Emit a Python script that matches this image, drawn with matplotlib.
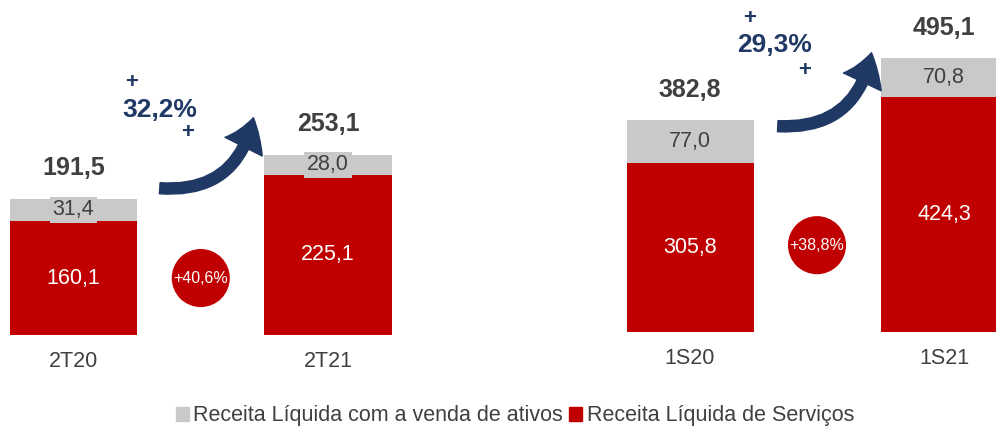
import matplotlib
matplotlib.use("Agg")
import matplotlib.pyplot as plt
from matplotlib.patches import FancyArrowPatch, Patch

plt.rcParams['font.family'] = ['Liberation Sans', 'DejaVu Sans']

# Data
cats_q = ["2T20", "2T21"]
serv_q = [160.1, 225.1]
ativos_q = [31.4, 28.0]
total_q = [191.5, 253.1]
growth_serv_q = "+40,6%"
growth_total_q = "32,2%"

cats_s = ["1S20", "1S21"]
serv_s = [305.8, 424.3]
ativos_s = [77.0, 70.8]
total_s = [382.8, 495.1]
growth_serv_s = "+38,8%"
growth_total_s = "29,3%"

legend_labels = ["Receita Líquida com a venda de ativos", "Receita Líquida de Serviços"]

RED = "#C00000"
GRAY = "#C9C9C9"
DARK = "#404040"
BLUE = "#1F3864"

W, H = 996, 429
fig = plt.figure(figsize=(W/100, H/100), dpi=100)

def px(x, y):
    return (x / W, 1 - y / H)

def make_ax(left_px, right_px, base_px, scale, x0_px, pitch):
    b = (H - base_px) / H
    ax = fig.add_axes([left_px / W, b, (right_px - left_px) / W, 1 - b])
    ax.set_ylim(0, base_px / scale)
    ax.set_xlim((left_px - x0_px) / pitch, (right_px - x0_px) / pitch)
    ax.axis("off")
    return ax

axL = make_ax(0, 400, 335, 0.712, 73.5, 254.5)
axR = make_ax(600, 996, 332, 0.553, 690, 254)

def draw(ax, cats, serv, ativos, total, gtxt, circ_y):
    xs = list(range(len(cats)))
    ax.bar(xs, serv, width=0.5, color=RED, edgecolor="none")
    ax.bar(xs, ativos, bottom=serv, width=0.5, color=GRAY, edgecolor="none")
    for x, s, a, t, c in zip(xs, serv, ativos, total, cats):
        ax.text(x, s / 2, f"{s:.1f}".replace(".", ","), ha="center", va="center",
                color="white", fontsize=15.5)
        ax.text(x, s + a / 2, f"{a:.1f}".replace(".", ","), ha="center", va="center",
                color=DARK, fontsize=15.5,
                bbox=dict(boxstyle="square,pad=0.12", fc=GRAY, ec="none"))
        ax.annotate(f"{t:.1f}".replace(".", ","), (x, t), xytext=(0, 22),
                    textcoords="offset points", ha="center", va="center",
                    color=DARK, fontsize=18, fontweight="bold")
        ax.annotate(c, (x, 0), xytext=(0, -19), textcoords="offset points",
                    ha="center", va="center", color=DARK, fontsize=15.5,
                    annotation_clip=False)
    ax.scatter([0.5], [circ_y], s=1750, color=RED, edgecolors="none", zorder=3)
    ax.text(0.5, circ_y, gtxt, ha="center", va="center", color="white",
            fontsize=11.5, zorder=4)

draw(axL, cats_q, serv_q, ativos_q, total_q, growth_serv_q, 80)
draw(axR, cats_s, serv_s, ativos_s, total_s, growth_serv_s, 157)

def growth_arrow(p0, p1, txt, txt_xy, plus1, plus2):
    a = FancyArrowPatch(px(*p0), px(*p1), transform=fig.transFigure,
                        connectionstyle="arc3,rad=0.45",
                        arrowstyle="simple,tail_width=8,head_width=30,head_length=22",
                        color=BLUE, mutation_scale=1)
    fig.patches.append(a)
    fig.text(*px(*txt_xy), txt, ha="center", va="center", color=BLUE,
             fontsize=19, fontweight="bold")
    for p in (plus1, plus2):
        fig.text(*px(*p), "+", ha="center", va="center", color=BLUE,
                 fontsize=16, fontweight="bold")

growth_arrow((157, 188), (254, 115), growth_total_q, (160, 110), (132, 83), (188, 133))
growth_arrow((775, 126), (872, 50), growth_total_s, (775, 45), (750, 19), (805, 70))

handles = [Patch(color=GRAY), Patch(color=RED)]
fig.legend(handles, legend_labels, loc="center", bbox_to_anchor=px(515, 416),
           ncol=2, frameon=False, fontsize=15.5, handlelength=0.6, handleheight=0.6,
           handletextpad=0.2, columnspacing=0.3, labelcolor=DARK)

fig.savefig("out.png", dpi=100)
